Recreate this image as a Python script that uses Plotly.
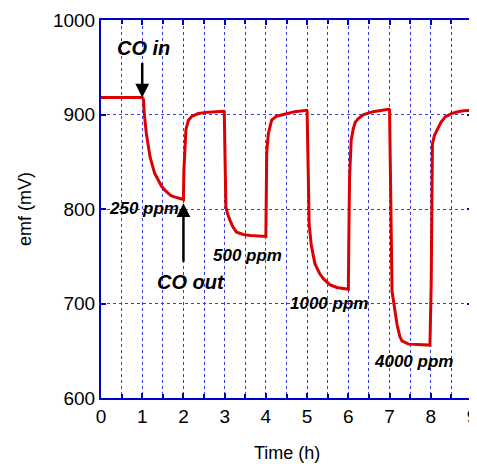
import plotly.graph_objects as go

# Data
time_h = [0.0, 1.0,
          1.03, 1.05, 1.10, 1.19, 1.30, 1.39, 1.47, 1.55, 1.70, 1.80, 2.00,
          2.01, 2.03, 2.06, 2.12, 2.20, 2.36, 2.60, 2.97,
          2.99, 3.03, 3.07, 3.13, 3.20, 3.29, 3.45, 3.62, 3.98,
          4.00, 4.02, 4.06, 4.14, 4.25, 4.43, 4.70, 4.99,
          5.00, 5.05, 5.10, 5.19, 5.30, 5.40, 5.55, 5.72, 6.00,
          6.01, 6.03, 6.07, 6.12, 6.17, 6.25, 6.37, 6.60, 6.97,
          7.00, 7.06, 7.12, 7.18, 7.25, 7.30, 7.46, 7.98,
          8.01, 8.04, 8.09, 8.15, 8.25, 8.35, 8.50, 8.63, 8.80, 9.00]
emf_mv = [918, 918,
          916, 901, 880, 855, 838, 830, 824, 820, 814, 812.5, 810,
          840, 866, 884, 894, 898, 901, 902.5, 903.5,
          903, 802, 795, 788, 781, 775.4, 773, 772, 771,
          771, 860, 880, 894, 898, 900, 903, 904.5,
          904, 784, 762, 742, 732, 726, 720, 717, 715,
          760, 834, 873, 885, 892, 896, 900, 903, 905.6,
          905, 713, 695, 678, 665, 660.5, 657, 656,
          720, 869, 878, 883, 892, 897.5, 901, 902.7, 904, 904.5]

x_ticks = [0, 1, 2, 3, 4, 5, 6, 7, 8, 9]
y_ticks = [600, 700, 800, 900, 1000]

conc_labels = ["250 ppm", "500 ppm", "1000 ppm", "4000 ppm"]
conc_x = [1.04, 3.56, 5.53, 7.57]
conc_y = [800.5, 750.7, 699.7, 639]

FONT = "Arial, Liberation Sans, sans-serif"
BLUE = "#0000cc"
GRID = "#3a3ae0"

fig = go.Figure()
fig.add_trace(go.Scatter(x=time_h, y=emf_mv, mode="lines",
                         line=dict(color="#dd0000", width=3),
                         showlegend=False, hoverinfo="skip"))

axis_common = dict(showline=True, linecolor=BLUE, linewidth=2, mirror="ticks",
                   ticks="inside", tickcolor=BLUE, ticklen=5, tickwidth=1.5,
                   zeroline=False, automargin=False, ticklabeloverflow="allow",
                   tickfont=dict(family=FONT, size=19, color="black"))

fig.update_xaxes(range=[0, 9], tickvals=x_ticks,
                 showgrid=True, gridcolor=GRID, griddash="dot", gridwidth=1,
                 minor=dict(dtick=0.5, tick0=0, showgrid=True, gridcolor=GRID, griddash="dot",
                            gridwidth=1, ticks="inside", ticklen=4, tickcolor=BLUE),
                 **axis_common)
fig.update_yaxes(range=[600, 1000], tickvals=y_ticks,
                 showgrid=True, gridcolor=GRID, griddash="dot", gridwidth=1,
                 **axis_common)

# axis titles
fig.add_annotation(text="Time (h)", xref="paper", yref="paper", x=0.5, y=-0.146,
                   yanchor="middle", showarrow=False,
                   font=dict(family=FONT, size=18, color="black"))
fig.add_annotation(text="emf (mV)", xref="paper", yref="paper", x=-0.205, y=0.5,
                   textangle=-90, xanchor="center", yanchor="middle", showarrow=False,
                   font=dict(family=FONT, size=18, color="black"))

# arrows
fig.add_annotation(x=1.0, y=918, ax=0, ay=-36, text="", showarrow=True,
                   arrowhead=2, arrowsize=1.1, arrowwidth=2.5, arrowcolor="black")
fig.add_annotation(x=2.0, y=806, ax=0, ay=60, text="", showarrow=True,
                   arrowhead=2, arrowsize=1.1, arrowwidth=2.5, arrowcolor="black")

fig.add_annotation(text="<b><i>CO in</i></b>", x=1.04, y=970, showarrow=False,
                   font=dict(family=FONT, size=20, color="black"))
fig.add_annotation(text="<b><i>CO out</i></b>", x=2.18, y=723, showarrow=False,
                   font=dict(family=FONT, size=20, color="black"))
for lab, cx, cy in zip(conc_labels, conc_x, conc_y):
    fig.add_annotation(text=f"<b><i>{lab}</i></b>", x=cx, y=cy, showarrow=False,
                       font=dict(family=FONT, size=17, color="black"))

# page body has an 8px default margin, so the figure is sized to fit the window
fig.update_layout(width=469, height=458, margin=dict(l=93, r=5, t=12, b=68),
                  paper_bgcolor="white", plot_bgcolor="white",
                  font=dict(family=FONT))

fig.write_html("out.html")
